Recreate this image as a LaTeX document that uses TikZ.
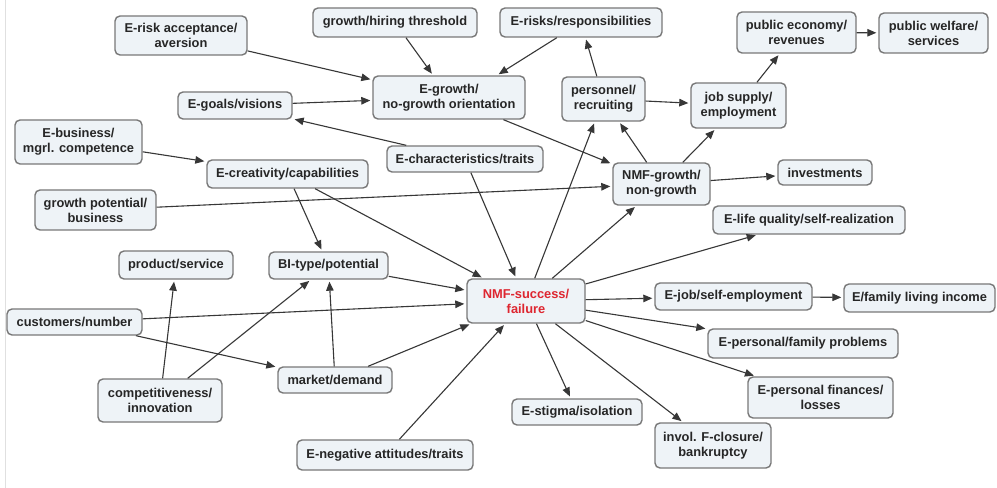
\documentclass[tikz,border=0pt]{standalone}
\usepackage{fontspec}
\setmainfont{Liberation Sans}
\usetikzlibrary{arrows.meta}

\definecolor{boxfill}{RGB}{238,243,247}
\definecolor{boxline}{RGB}{120,120,120}
\definecolor{textcol}{RGB}{38,38,38}
\definecolor{keyred}{RGB}{222,38,48}
\definecolor{linecol}{RGB}{55,55,55}

\tikzset{
  box/.style={draw=boxline, fill=boxfill, rounded corners=5bp, line width=1.4bp,
    align=center, inner sep=0pt, text=textcol,
    font=\fontsize{12.9}{15}\selectfont\bfseries},
  sz/.style 2 args={minimum width=#1bp, minimum height=#2bp},
  conn/.style={draw=linecol, line width=1.1bp,
    -{Triangle[length=9bp,width=7.5bp]}, shorten >=2bp},
}

\begin{document}
\begin{tikzpicture}[x=1bp, y=-1bp]
  % canvas
  \fill[white] (0,0) rectangle (997,488);
  \useasboundingbox (0,0) rectangle (997,488);
  \draw[black!12, line width=1bp] (5.5,0) -- (5.5,488);

  % concepts
  \node[box,sz={132}{39}] (risk)      at (181,35.5)   {E-risk acceptance/\\aversion};
  \node[box,sz={164}{29}] (hiring)    at (395,22.5)   {growth/hiring threshold};
  \node[box,sz={162}{29}] (risks)     at (581,22.5)   {E-risks/responsibilities};
  \node[box,sz={119}{41}] (pubecon)   at (796.5,32.5) {public economy/\\revenues};
  \node[box,sz={109}{40}] (pubwelf)   at (933.5,33)   {public welfare/\\services};
  \node[box,sz={114}{27}] (goals)     at (235,105.5)  {E-goals/visions};
  \node[box,sz={152}{43}] (egrowth)   at (449,97.5)   {E-growth/\\no-growth orientation};
  \node[box,sz={83}{44}]  (personnel) at (603.5,99)   {personnel/\\recruiting};
  \node[box,sz={95}{45}]  (jobsup)    at (738.5,105.5){job supply/\\employment};
  \node[box,sz={127}{44}] (business)  at (78.5,142)   {E-business/\\mgrl. competence};
  \node[box,sz={156}{26}] (echar)     at (465,159)    {E-characteristics/traits};
  \node[box,sz={161}{28}] (creat)     at (287.5,174)  {E-creativity/capabilities};
  \node[box,sz={97}{42}]  (nmfg)      at (661.5,184)  {NMF-growth/\\non-growth};
  \node[box,sz={94}{25}]  (invest)    at (825,172.5)  {investments};
  \node[box,sz={121}{40}] (gpot)      at (95.5,210)   {growth potential/\\business};
  \node[box,sz={192}{28}] (life)      at (809,220)    {E-life quality/self-realization};
  \node[box,sz={114}{28}] (product)   at (176,265)    {product/service};
  \node[box,sz={119}{27}] (bitype)    at (328.5,265.5){BI-type/potential};
  \node[box,sz={118}{44},text=keyred] (nmfs) at (526,301) {NMF-success/\\failure};
  \node[box,sz={135}{26}] (customers) at (74.5,322)   {customers/number};
  \node[box,sz={157}{27}] (ejob)      at (733.5,296.5){E-job/self-employment};
  \node[box,sz={151}{28}] (family)    at (919.5,298)  {E/family living income};
  \node[box,sz={190}{29}] (famprob)   at (803,343.5)  {E-personal/family problems};
  \node[box,sz={114}{26}] (market)    at (335,380)    {market/demand};
  \node[box,sz={124}{43}] (compet)    at (160,400.5)  {competitiveness/\\innovation};
  \node[box,sz={130}{26}] (stigma)    at (577,412)    {E-stigma/isolation};
  \node[box,sz={145}{41}] (finances)  at (820.5,397.5){E-personal finances/\\losses};
  \node[box,sz={116}{45}] (invol)     at (713,445.5)  {invol. F-closure/\\bankruptcy};
  \node[box,sz={176}{30}] (negative)  at (385,455)    {E-negative attitudes/traits};

  % influences
  \draw[conn] (risk) -- (egrowth);
  \draw[conn] (hiring) -- (egrowth);
  \draw[conn] (risks) -- ([xshift=48bp]egrowth.north);
  \draw[conn] (goals) -- (egrowth);
  \draw[conn] (echar) -- (goals);
  \draw[conn] (business) -- (creat);
  \draw[conn] (egrowth) -- (nmfg);
  \draw[conn] (gpot) -- (nmfg);
  \draw[conn] (creat) -- (bitype);
  \draw[conn] (creat) -- (nmfs);
  \draw[conn] (echar) -- (nmfs);
  \draw[conn] (nmfs) -- (personnel);
  \draw[conn] (nmfs) -- (nmfg);
  \draw[conn] (nmfg) -- (personnel);
  \draw[conn] (personnel) -- (jobsup);
  \draw[conn] (nmfg) -- (jobsup);
  \draw[conn] (jobsup) -- (pubecon);
  \draw[conn] (pubecon) -- (pubwelf);
  \draw[conn] (personnel) -- (risks);
  \draw[conn] (nmfg) -- (invest);
  \draw[conn] (nmfs) -- (life);
  \draw[conn] (nmfs) -- (ejob);
  \draw[conn] (ejob) -- (family);
  \draw[conn] (nmfs) -- (famprob);
  \draw[conn] (nmfs) -- (finances);
  \draw[conn] (nmfs) -- (invol);
  \draw[conn] (nmfs) -- (stigma);
  \draw[conn] (negative) -- (nmfs);
  \draw[conn] (market) -- (nmfs);
  \draw[conn] (market) -- (bitype);
  \draw[conn] (customers) -- (nmfs);
  \draw[conn] (customers) -- (market);
  \draw[conn] (bitype) -- (nmfs);
  \draw[conn] (compet) -- (product);
  \draw[conn] (compet) -- (bitype);
\end{tikzpicture}
\end{document}
